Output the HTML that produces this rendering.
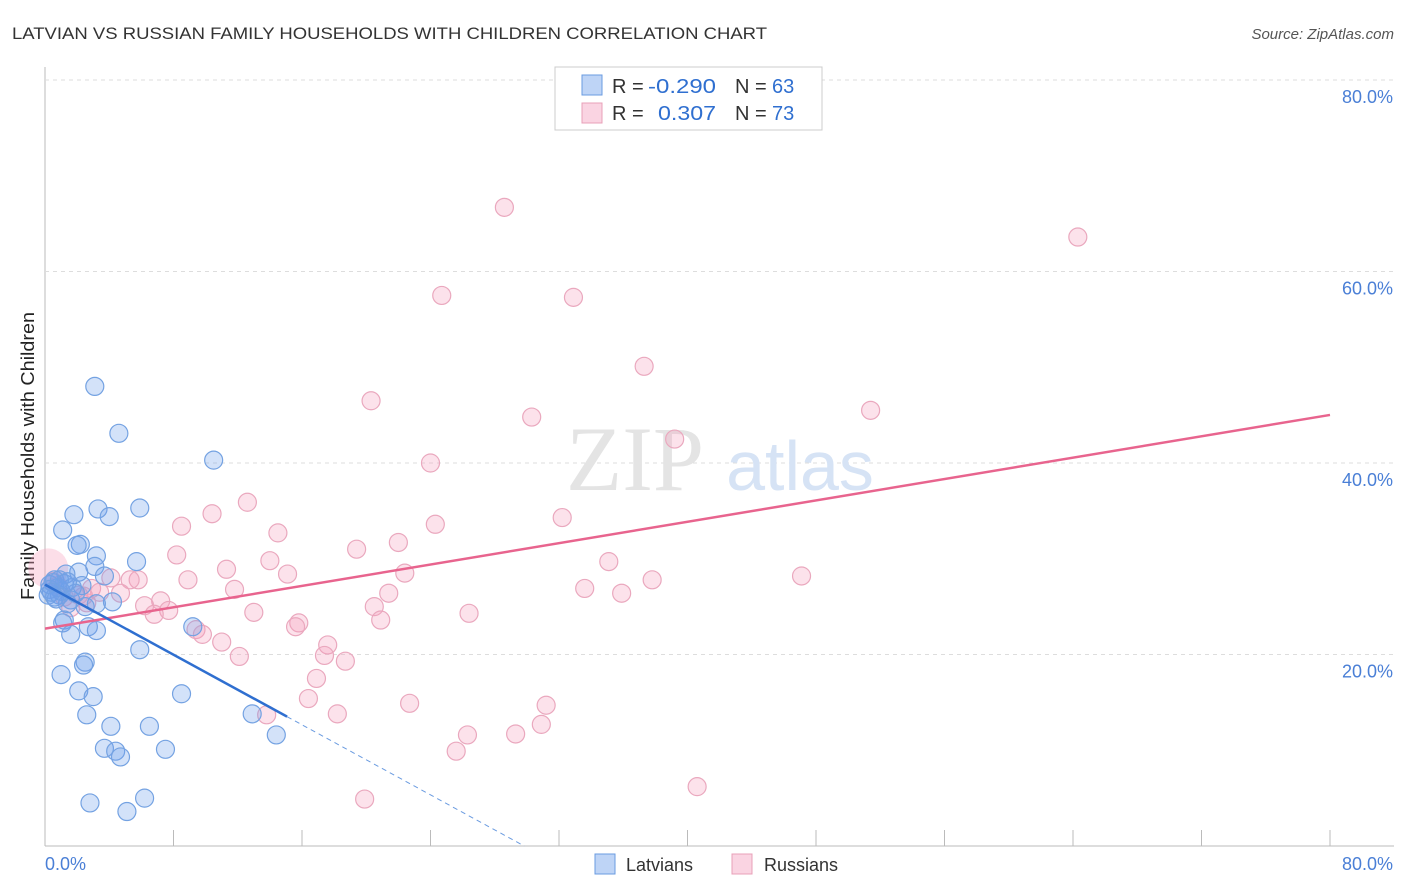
<!DOCTYPE html>
<html><head><meta charset="utf-8"><style>
body{margin:0;background:#fff;font-family:"Liberation Sans",sans-serif;}
svg{display:block}
</style></head><body>
<svg id="chart" width="1406" height="892">
<text x="12" y="39" font-size="17" fill="#333" textLength="755" lengthAdjust="spacingAndGlyphs">LATVIAN VS RUSSIAN FAMILY HOUSEHOLDS WITH CHILDREN CORRELATION CHART</text>
<text x="1394" y="39" font-size="15" fill="#555" font-style="italic" text-anchor="end">Source: ZipAtlas.com</text>
<text x="34" y="456" font-size="18" fill="#222" text-anchor="middle" textLength="288" lengthAdjust="spacingAndGlyphs" transform="rotate(-90 34 456)">Family Households with Children</text>
<g id="grid"></g>
<g><text x="635" y="490" font-size="92" fill="#e4e4e4" font-family="Liberation Serif,serif" text-anchor="middle">ZIP</text><text x="800" y="490" font-size="70" fill="#d6e3f5" text-anchor="middle">atlas</text></g>
<g id="points"></g>
<g id="lines"></g>
<g>
<rect x="555" y="67" width="267" height="63" fill="#fff" stroke="#ccc"/>
<rect x="582" y="75" width="20" height="20" fill="rgba(110,160,235,0.45)" stroke="#6a9be0"/>
<rect x="582" y="103" width="20" height="20" fill="rgba(245,160,190,0.45)" stroke="#e8a0b8"/>
<text x="612" y="93" font-size="20" fill="#333">R = <tspan fill="#2f6fd0" x="648" textLength="68" lengthAdjust="spacingAndGlyphs">-0.290</tspan></text>
<text x="735" y="93" font-size="20" fill="#333">N = <tspan fill="#2f6fd0" x="772">63</tspan></text>
<text x="612" y="120" font-size="20" fill="#333">R = <tspan fill="#2f6fd0" x="658" textLength="58" lengthAdjust="spacingAndGlyphs">0.307</tspan></text>
<text x="735" y="120" font-size="20" fill="#333">N = <tspan fill="#2f6fd0" x="772">73</tspan></text>
</g>
<g>
<rect x="595" y="854" width="20" height="20" fill="rgba(110,160,235,0.45)" stroke="#6a9be0"/>
<text x="626" y="871" font-size="18" fill="#333">Latvians</text>
<rect x="732" y="854" width="20" height="20" fill="rgba(245,160,190,0.45)" stroke="#e8a0b8"/>
<text x="764" y="871" font-size="18" fill="#333">Russians</text>
</g>
</svg>
<script>
const yTicks=[20,40,60,80];
const xTickLabels=["0.0%","80.0%"];
const latX=[3.1,4.6,10.5,3.3,5.9,4.0,1.8,1.1,2.2,2.0,3.2,5.7,3.1,2.1,1.3,3.7,2.3,1.7,0.6,0.3,0.2,0.9,1.6,4.2,1.4,3.2,1.2,1.1,2.7,3.2,1.6,9.2,5.9,2.5,2.4,1.0,2.1,3.0,8.5,2.6,4.1,6.5,12.9,3.7,4.4,4.7,7.5,14.4,2.8,6.2,5.1,0.5,0.8,1.0,0.3,1.2,0.6,0.9,1.9,2.5,0.4,1.4,0.7];
const latY=[48.0,43.1,40.3,35.2,35.3,34.4,34.6,33.0,31.5,31.4,30.3,29.7,29.2,28.6,28.4,28.2,27.2,27.0,27.8,27.3,26.2,26.2,25.7,25.5,25.3,25.3,23.6,23.3,22.9,22.5,22.1,22.9,20.5,19.2,18.9,17.9,16.2,15.6,15.9,13.7,12.5,12.5,13.8,10.2,9.9,9.3,10.1,11.6,4.5,5.0,3.6,27.5,27.0,26.6,26.8,27.4,26.0,27.8,26.4,25.0,26.5,27.6,25.8];
const rusX=[28.6,64.3,24.7,32.9,37.3,20.3,30.3,51.4,39.2,24.0,12.6,10.4,24.3,32.2,8.5,14.5,22.0,19.4,8.2,14.0,35.1,11.3,15.1,22.4,8.9,47.1,37.8,5.8,5.3,4.1,33.6,35.9,11.8,2.9,3.4,4.7,2.4,21.4,7.2,6.2,7.7,6.8,13.0,20.5,26.4,20.9,15.8,15.6,9.4,9.8,11.0,17.6,12.1,17.4,18.7,16.9,16.4,22.7,31.2,18.2,13.8,30.9,26.3,29.3,25.6,40.6,19.9,2.1,1.6,0.8,1.2,0.5,2.6];
const rusY=[66.7,63.6,57.5,57.3,50.1,46.5,44.8,45.5,42.5,40.0,35.9,34.7,33.6,34.3,33.4,32.7,31.7,31.0,30.4,29.8,29.7,28.9,28.4,28.5,27.8,28.2,27.8,27.8,27.8,28.0,26.9,26.4,26.8,26.9,26.5,26.4,26.1,26.4,25.6,25.1,24.6,24.2,24.4,25.0,24.3,23.6,23.3,22.9,22.6,22.1,21.3,21.0,19.8,19.9,19.3,17.5,15.4,14.9,14.7,13.8,13.7,12.7,11.6,11.7,9.9,6.2,4.9,26.2,24.9,27.2,26.0,27.6,25.4];
const latTrend=[27.3,-0.915,15.07];
const rusTrend=[22.7,0.279,80];
const NS="http://www.w3.org/2000/svg";
const X0=45,X1=1330,Y0=846,Y80=80;
const sx=v=>X0+(X1-X0)*v/80;
const sy=v=>Y0-(Y0-Y80)*v/80;
function mk(tag,attrs,parent){const e=document.createElementNS(NS,tag);for(const k in attrs)e.setAttribute(k,attrs[k]);parent.appendChild(e);return e;}
const grid=document.getElementById('grid');
let ax=mk('line',{x1:X0,y1:67,x2:X0,y2:Y0,stroke:'#bbb'},grid);


let bx=mk('line',{x1:X0,y1:Y0,x2:1394,y2:Y0,stroke:'#bbb'},grid);


yTicks.forEach(t=>{
 const g=mk('line',{x1:X0,y1:sy(t),x2:1394,y2:sy(t),stroke:'#ddd','stroke-dasharray':'4,4'},grid);
 
 
 const l=mk('text',{x:1393,y:sy(t)+23,'font-size':18,fill:'#4a7fd6','text-anchor':'end'},grid);
 l.textContent=t.toFixed(1)+'%';
 
 
});
for(let i=0;i<=10;i++){
 const v=i*8;
 const tk=mk('line',{x1:sx(v),y1:Y0-16,x2:sx(v),y2:Y0,stroke:'#bbb'},grid);
 
 
}
const xl0=mk('text',{x:45,y:870,'font-size':18,fill:'#4a7fd6'},grid);xl0.textContent=xTickLabels[0];


const xl1=mk('text',{x:1393,y:870,'font-size':18,fill:'#4a7fd6','text-anchor':'end'},grid);xl1.textContent=xTickLabels[1];


const pts=document.getElementById('points');
const big=mk('circle',{cx:sx(0.2),cy:sy(29.0),r:20,fill:'rgba(245,160,190,0.35)',stroke:'none'},pts);


rusX.forEach((x,i)=>{
 const c=mk('circle',{cx:sx(x),cy:sy(rusY[i]),r:9,fill:'rgba(245,160,190,0.3)',stroke:'#eaa8be','stroke-width':1.2},pts);
 
 
});
latX.forEach((x,i)=>{
 const c=mk('circle',{cx:sx(x),cy:sy(latY[i]),r:9,fill:'rgba(110,160,235,0.3)',stroke:'#74a2e2','stroke-width':1.2},pts);
 
 
});
const ln=document.getElementById('lines');
const rl=mk('line',{x1:sx(0),y1:sy(rusTrend[0]),x2:sx(rusTrend[2]),y2:sy(rusTrend[0]+rusTrend[1]*rusTrend[2]),stroke:'#e8648e','stroke-width':2.5},ln);


const ll=mk('line',{x1:sx(0),y1:sy(latTrend[0]),x2:sx(latTrend[2]),y2:sy(latTrend[0]+latTrend[1]*latTrend[2]),stroke:'#2f6fd0','stroke-width':2.5},ln);


const xz=-latTrend[0]/latTrend[1];
const ld=mk('line',{x1:sx(latTrend[2]),y1:sy(latTrend[0]+latTrend[1]*latTrend[2]),x2:sx(xz),y2:sy(0),stroke:'#6a9be0','stroke-width':1,'stroke-dasharray':'5,4'},ln);


</script>
</body></html>
